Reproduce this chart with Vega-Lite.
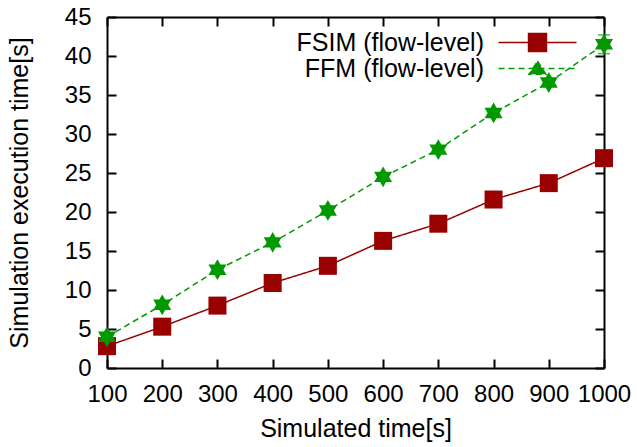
{
  "$schema": "https://vega.github.io/schema/vega-lite/v6.json",
  "width": 497,
  "height": 351,
  "autosize": "none",
  "padding": {"left": 107, "top": 17, "right": 33, "bottom": 79},
  "config": {
    "view": {"stroke": null},
    "font": "Liberation Sans",
    "axis": {
      "domainColor": "black", "domainWidth": 2, "tickColor": "black", "tickWidth": 2,
      "tickSize": -9, "labelFontSize": 24, "labelColor": "black", "labelFont": "Liberation Sans",
      "titleFontSize": 25, "titleFontWeight": "normal", "titleColor": "black", "titleFont": "Liberation Sans",
      "grid": false, "zindex": 1, "format": "d"
    }
  },
  "data": {"values": [
    {"t": 100, "series": "FSIM (flow-level)", "v": 2.8},
    {"t": 200, "series": "FSIM (flow-level)", "v": 5.3},
    {"t": 300, "series": "FSIM (flow-level)", "v": 8.0},
    {"t": 400, "series": "FSIM (flow-level)", "v": 10.9},
    {"t": 500, "series": "FSIM (flow-level)", "v": 13.1},
    {"t": 600, "series": "FSIM (flow-level)", "v": 16.3},
    {"t": 700, "series": "FSIM (flow-level)", "v": 18.5},
    {"t": 800, "series": "FSIM (flow-level)", "v": 21.6},
    {"t": 900, "series": "FSIM (flow-level)", "v": 23.7},
    {"t": 1000, "series": "FSIM (flow-level)", "v": 26.9},
    {"t": 100, "series": "FFM (flow-level)", "v": 4.0, "lo": 3.7, "hi": 4.3},
    {"t": 200, "series": "FFM (flow-level)", "v": 8.1, "lo": 7.8, "hi": 8.4},
    {"t": 300, "series": "FFM (flow-level)", "v": 12.6, "lo": 12.3, "hi": 12.9},
    {"t": 400, "series": "FFM (flow-level)", "v": 16.1, "lo": 15.8, "hi": 16.4},
    {"t": 500, "series": "FFM (flow-level)", "v": 20.2, "lo": 19.9, "hi": 20.5},
    {"t": 600, "series": "FFM (flow-level)", "v": 24.5, "lo": 24.2, "hi": 24.8},
    {"t": 700, "series": "FFM (flow-level)", "v": 28.0, "lo": 27.7, "hi": 28.3},
    {"t": 800, "series": "FFM (flow-level)", "v": 32.7, "lo": 32.4, "hi": 33.0},
    {"t": 900, "series": "FFM (flow-level)", "v": 36.6, "lo": 36.3, "hi": 36.9},
    {"t": 1000, "series": "FFM (flow-level)", "v": 41.5, "lo": 40.3, "hi": 42.7}
  ]},
  "layer": [
    {
      "mark": {"type": "line", "strokeWidth": 1.5},
      "encoding": {
        "x": {"field": "t", "type": "quantitative", "scale": {"domain": [100, 1000], "nice": false, "zero": false},
              "axis": {"orient": "bottom", "values": [100,200,300,400,500,600,700,800,900,1000], "title": "Simulated time[s]", "labelPadding": 23, "titlePadding": 10, "labelFlush": false}},
        "y": {"field": "v", "type": "quantitative", "scale": {"domain": [0, 45], "nice": false},
              "axis": {"orient": "left", "values": [0,5,10,15,20,25,30,35,40,45], "title": "Simulation execution time[s]", "labelPadding": 25, "titlePadding": 32}},
        "color": {"field": "series", "type": "nominal",
          "scale": {"domain": ["FSIM (flow-level)", "FFM (flow-level)"], "range": ["#990000", "#009900"]},
          "legend": {
            "title": null, "orient": "none", "legendX": 418, "legendY": 13, "padding": 0,
            "labelFontSize": 25, "labelFont": "Liberation Sans", "labelColor": "black", "labelAlign": "right", "labelOffset": -66, "labelLimit": 400,
            "symbolSize": 380, "symbolStrokeWidth": 1.5, "rowPadding": -1,
            "encode": {"symbols": {"update": {
              "shape": {"signal": "datum.value === 'FSIM (flow-level)' ? 'M-4,0H4M-0.92,-0.92H0.92V0.92H-0.92Z' : 'M-4,0H4M0,-0.75L0.87,0.6H-0.87Z'"},
              "stroke": {"scale": "color", "field": "value"},
              "fill": {"scale": "color", "field": "value"},
              "fillOpacity": {"value": 1},
              "opacity": {"value": 1},
              "strokeDash": {"signal": "datum.value === 'FFM (flow-level)' ? [6,4] : [1,0]"}
            }}}
          }},
        "strokeDash": {"field": "series", "type": "nominal",
          "scale": {"domain": ["FSIM (flow-level)", "FFM (flow-level)"], "range": [[1, 0], [6, 4]]}, "legend": null}
      }
    },
    {
      "transform": [{"filter": "datum.series === 'FFM (flow-level)'"}],
      "mark": {"type": "errorbar", "ticks": true, "color": "#009900", "thickness": 1.5, "size": 12},
      "encoding": {
        "x": {"field": "t", "type": "quantitative", "axis": null},
        "y": {"field": "lo", "type": "quantitative", "axis": null},
        "y2": {"field": "hi"}
      }
    },
    {
      "transform": [{"filter": "datum.series === 'FSIM (flow-level)'"}],
      "mark": {"type": "point", "shape": "square", "filled": true, "size": 324, "color": "#990000", "opacity": 1},
      "encoding": {
        "x": {"field": "t", "type": "quantitative",
              "axis": {"orient": "top", "values": [100,200,300,400,500,600,700,800,900,1000], "labels": false, "title": null}},
        "y": {"field": "v", "type": "quantitative",
              "axis": {"orient": "right", "values": [0,5,10,15,20,25,30,35,40,45], "labels": false, "title": null}}
      }
    },
    {
      "transform": [{"filter": "datum.series === 'FFM (flow-level)'"}],
      "mark": {"type": "point", "shape": "M0,-1L0.2887,-0.5L0.866,-0.5L0.5774,0L0.866,0.5L0.2887,0.5L0,1L-0.2887,0.5L-0.866,0.5L-0.5774,0L-0.866,-0.5L-0.2887,-0.5Z", "filled": true, "size": 433, "color": "#009900", "opacity": 1},
      "encoding": {
        "x": {"field": "t", "type": "quantitative", "axis": null},
        "y": {"field": "v", "type": "quantitative", "axis": null}
      }
    }
  ],
  "resolve": {"axis": {"x": "independent", "y": "independent"}}
}
